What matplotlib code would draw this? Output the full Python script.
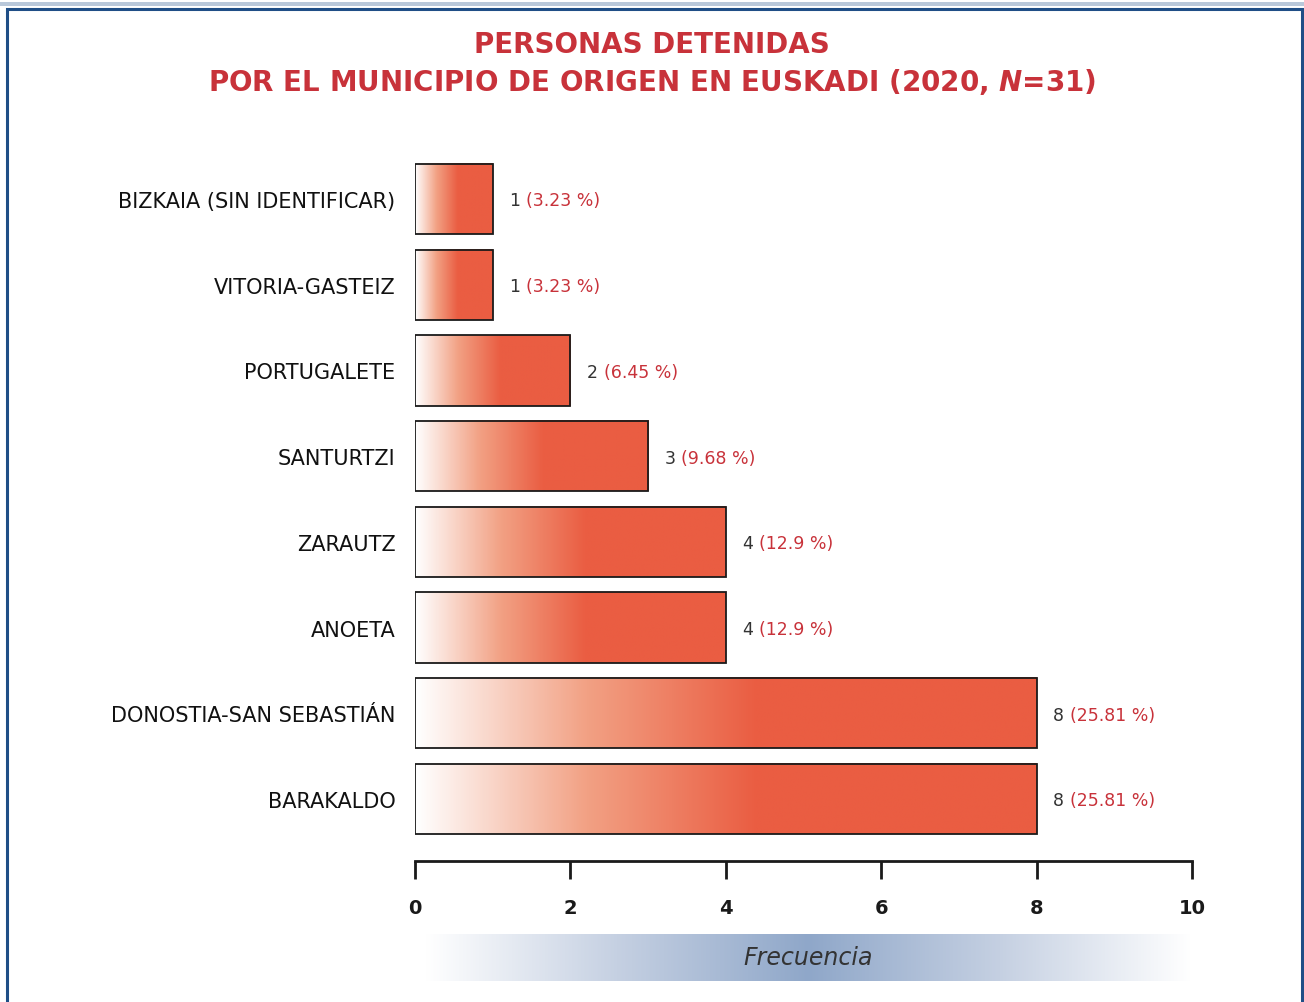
import numpy as np
import matplotlib.pyplot as plt
from matplotlib.colors import LinearSegmentedColormap
from matplotlib.patches import Rectangle

# data (top to bottom)
municipios = ['BIZKAIA (SIN IDENTIFICAR)', 'VITORIA-GASTEIZ', 'PORTUGALETE', 'SANTURTZI',
              'ZARAUTZ', 'ANOETA', 'DONOSTIA-SAN SEBASTIÁN', 'BARAKALDO']
frecuencia = [1, 1, 2, 3, 4, 4, 8, 8]
porcentaje = ['3.23', '3.23', '6.45', '9.68', '12.9', '12.9', '25.81', '25.81']
ticks = [0, 2, 4, 6, 8, 10]

RED = '#C8323A'
W, H = 1304, 1003
fig = plt.figure(figsize=(W / 100, H / 100), dpi=100)


def fx(px):
    return px / W


def fy(py):
    return 1 - py / H


# frame
fig.patches.append(Rectangle((fx(7), fy(1010)), fx(1302) - fx(7), fy(10) - fy(1010),
                             transform=fig.transFigure, fill=False, edgecolor='#1F4E86', lw=2.2))
fig.patches.append(Rectangle((0, fy(7)), 1, fy(3) - fy(7), transform=fig.transFigure,
                             color='#B9C8DA', lw=0))

fig.text(0.5, fy(45), 'PERSONAS DETENIDAS', ha='center', va='center',
         fontsize=20, fontweight='bold', color=RED, family='DejaVu Sans')
fig.text(0.5, fy(82), 'POR EL MUNICIPIO DE ORIGEN EN EUSKADI (2020, $\\boldsymbol{N}$=31)',
         ha='center', va='center', fontsize=20, fontweight='bold', color=RED, family='DejaVu Sans')

ax = fig.add_axes([fx(415), fy(862), fx(1192) - fx(415), fy(150) - fy(862)])
ypos = np.arange(len(municipios))
bars = ax.barh(ypos, frecuencia, height=0.82, facecolor='none', edgecolor='#1a1a1a', lw=1.3, zorder=3)

cmap = LinearSegmentedColormap.from_list('rojo', ['#FFFFFF', '#F2A184', '#EA5D42'])
grad = np.clip(np.linspace(0, 1, 256) / 0.55, 0, 1).reshape(1, -1)
for b in bars:
    x0, y0, w, h = b.get_x(), b.get_y(), b.get_width(), b.get_height()
    ax.imshow(grad, extent=(x0, x0 + w, y0 + h, y0), aspect='auto', cmap=cmap,
              vmin=0, vmax=1, zorder=2, interpolation='bilinear')

for y, v, p in zip(ypos, frecuencia, porcentaje):
    t = ax.annotate(f'{v}', (v, y), xytext=(12, -1), textcoords='offset points', va='center',
                    ha='left', fontsize=12.5, color='#333333')
    ax.annotate(f'({p} %)', xy=(1, 0.5), xycoords=t, xytext=(4, 0), textcoords='offset points',
                va='center', ha='left', fontsize=12.5, color=RED)

ax.set_xlim(0, 10)
ax.set_ylim(7.723, -0.583)
ax.set_xticks(ticks)
ax.set_xticklabels([str(t) for t in ticks], fontsize=14, fontweight='semibold', color='#1a1a1a')
ax.set_yticks(ypos)
ax.set_yticklabels(municipios, fontsize=15, color='#111111')
ax.tick_params(axis='y', length=0, pad=14)
ax.tick_params(axis='x', length=13, width=2, pad=14, color='#1a1a1a')
for s in ['top', 'right', 'left']:
    ax.spines[s].set_visible(False)
ax.spines['bottom'].set_linewidth(2)
ax.spines['bottom'].set_color('#1a1a1a')

# Frecuencia band
bax = fig.add_axes([fx(425), fy(982), fx(1192) - fx(425), fy(935) - fy(982)])
bcmap = LinearSegmentedColormap.from_list('azul', ['#FFFFFF', '#C5D0E2', '#8FA7C9', '#C5D0E2', '#FFFFFF'])
bax.imshow(np.linspace(0, 1, 256).reshape(1, -1), extent=(0, 1, 0, 1), aspect='auto', cmap=bcmap)
bax.axis('off')
bax.text(0.5, 0.5, 'Frecuencia', ha='center', va='center', fontsize=17, style='italic',
         color='#333333', transform=bax.transAxes)

fig.savefig('out.png', dpi=100)
